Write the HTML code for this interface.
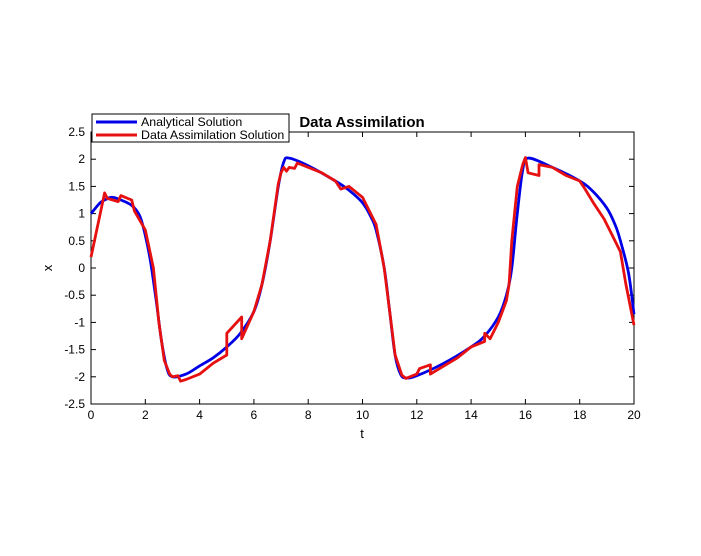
<!DOCTYPE html>
<html><head><meta charset="utf-8"><style>
body{margin:0;background:#fff}
svg{display:block;font-family:"Liberation Sans",sans-serif}
</style></head><body>
<svg id="chart" width="701" height="556" viewBox="0 0 701 556">
<rect width="701" height="556" fill="#fff"/>
<g id="axes"></g>
<g id="series"></g>
<text x="362" y="127" text-anchor="middle" font-size="15" font-weight="bold">Data Assimilation</text>
<text x="362" y="438" text-anchor="middle" font-size="13">t</text>
<text x="52" y="268" text-anchor="middle" font-size="13" transform="rotate(-90 52 268)">x</text>
<g>
<rect x="92" y="114" width="197" height="28" fill="#fff" stroke="#000" stroke-width="1"/>
<line x1="96" y1="122" x2="137" y2="122" stroke="#0000e6" stroke-width="3"/>
<text x="141" y="126" font-size="12.4">Analytical Solution</text>
<line x1="96" y1="135" x2="137" y2="135" stroke="#e61010" stroke-width="3"/>
<text x="141" y="139" font-size="12.4">Data Assimilation Solution</text>
</g>
</svg>
<script>
const xTicks=[0,2,4,6,8,10,12,14,16,18,20];
const yTicks=[-2.5,-2,-1.5,-1,-0.5,0,0.5,1,1.5,2,2.5];
const analyticT=[0,0.3,0.5,0.75,1,1.5,1.8,2,2.2,2.4,2.6,2.8,3,3.5,4,4.5,5,5.5,6,6.3,6.6,6.9,7.1,7.3,8,9,9.5,10,10.3,10.5,10.8,11,11.2,11.4,11.6,12,13,14,14.5,15,15.3,15.5,15.7,15.9,16.1,17,18,18.5,19,19.3,19.5,19.8,20];
const analyticX=[1.0,1.18,1.25,1.3,1.27,1.15,0.95,0.6,0.1,-0.6,-1.35,-1.85,-2.0,-1.95,-1.8,-1.65,-1.45,-1.2,-0.8,-0.3,0.5,1.5,1.95,2.02,1.88,1.6,1.43,1.2,0.95,0.7,0.0,-0.8,-1.6,-1.95,-2.02,-1.98,-1.75,-1.45,-1.25,-0.9,-0.5,0.0,1.0,1.8,2.02,1.85,1.6,1.4,1.1,0.8,0.5,-0.1,-0.85];
const daT=[0,0.5,0.6,1.0,1.1,1.5,1.6,2.0,2.3,2.5,2.7,2.9,3.0,3.2,3.3,3.5,4,4.5,5.0,5.0,5.55,5.55,6,6.3,6.6,6.9,7.0,7.1,7.2,7.3,7.5,7.6,8.5,9,9.2,9.5,10,10.5,10.8,11.0,11.2,11.45,11.6,12.0,12.1,12.5,12.5,13,13.5,14,14.5,14.5,14.7,15.0,15.3,15.4,15.5,15.7,15.9,16.0,16.1,16.5,16.5,17,17.5,18,18.2,18.5,18.9,19.2,19.5,19.7,19.9,20];
const daX=[0.2,1.38,1.28,1.22,1.33,1.25,1.05,0.7,0,-1.0,-1.7,-1.95,-2.0,-1.98,-2.08,-2.05,-1.95,-1.75,-1.6,-1.2,-0.9,-1.3,-0.8,-0.3,0.5,1.55,1.75,1.85,1.78,1.85,1.83,1.93,1.75,1.6,1.45,1.5,1.3,0.8,0.0,-0.8,-1.6,-1.97,-2.03,-1.95,-1.85,-1.78,-1.95,-1.8,-1.65,-1.45,-1.35,-1.2,-1.3,-1.0,-0.6,-0.3,0.5,1.5,1.9,2.03,1.75,1.7,1.9,1.85,1.7,1.6,1.45,1.2,0.9,0.6,0.3,-0.3,-0.8,-1.05];
const L=91,R=634,T=132,B=404;
const sx=t=>L+(t-0)/(20-0)*(R-L);
const sy=v=>B-(v+2.5)/5*(B-T);
const NS="http://www.w3.org/2000/svg";
const ax=document.getElementById('axes'),se=document.getElementById('series');
function mk(tag,attrs,parent){const e=document.createElementNS(NS,tag);for(const k in attrs)e.setAttribute(k,attrs[k]);parent.appendChild(e);return e;}
const box=mk('rect',{x:L,y:T,width:R-L,height:B-T,fill:'none',stroke:'#000','stroke-width':1},ax);


xTicks.forEach(t=>{const x=sx(t);
mk('line',{x1:x,y1:B,x2:x,y2:B-5,stroke:'#000'},ax);
mk('line',{x1:x,y1:T,x2:x,y2:T+5,stroke:'#000'},ax);
const tx=mk('text',{x:x,y:B+15,'text-anchor':'middle','font-size':12},ax);tx.textContent=t;

});
yTicks.forEach(v=>{const y=sy(v);
mk('line',{x1:L,y1:y,x2:L+5,y2:y,stroke:'#000'},ax);
mk('line',{x1:R,y1:y,x2:R-5,y2:y,stroke:'#000'},ax);
const tx=mk('text',{x:L-6,y:y+4,'text-anchor':'end','font-size':12},ax);tx.textContent=v;

});
function smoothPath(ts,xs){const P=ts.map((t,i)=>[sx(t),sy(xs[i])]);let d='M'+P[0][0].toFixed(1)+','+P[0][1].toFixed(1);
for(let i=0;i<P.length-1;i++){const p0=P[Math.max(0,i-1)],p1=P[i],p2=P[i+1],p3=P[Math.min(P.length-1,i+2)];
const c1=[p1[0]+(p2[0]-p0[0])/6,p1[1]+(p2[1]-p0[1])/6],c2=[p2[0]-(p3[0]-p1[0])/6,p2[1]-(p3[1]-p1[1])/6];
d+=' C'+c1.map(v=>v.toFixed(1)).join(',')+' '+c2.map(v=>v.toFixed(1)).join(',')+' '+p2.map(v=>v.toFixed(1)).join(',');}
return d;}
const a=mk('path',{d:smoothPath(analyticT,analyticX),fill:'none',stroke:'#0000e6','stroke-width':2.8,'stroke-linejoin':'round'},se);


const r=mk('polyline',{points:daT.map((t,i)=>sx(t).toFixed(1)+','+sy(daX[i]).toFixed(1)).join(' '),fill:'none',stroke:'#e61010','stroke-width':2.8,'stroke-linejoin':'round'},se);


</script>
</body></html>
